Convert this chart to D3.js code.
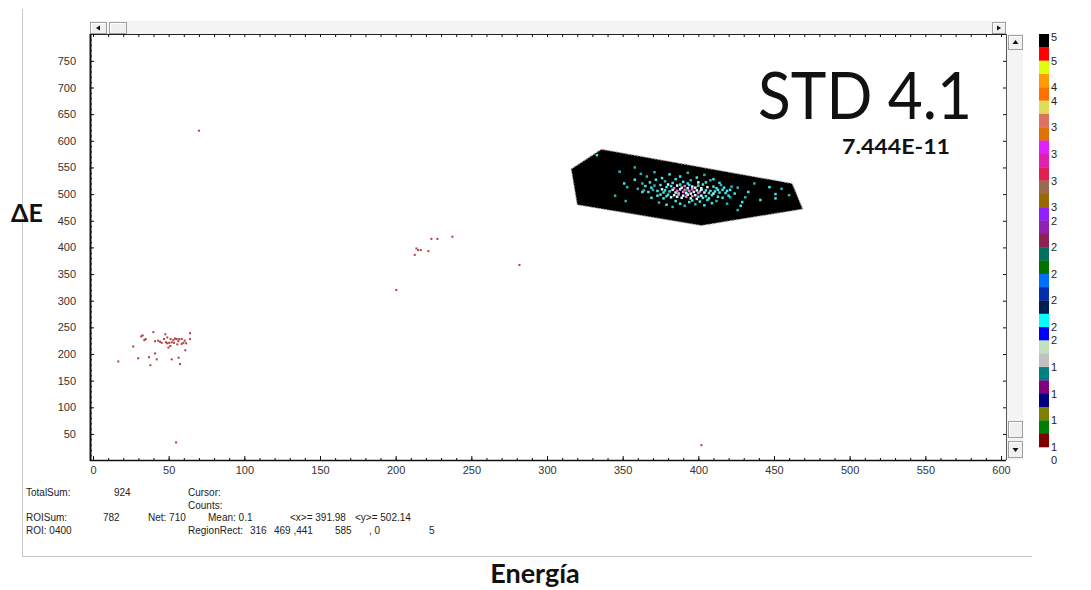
<!DOCTYPE html>
<html>
<head>
<meta charset="utf-8">
<script src="https://cdn.jsdelivr.net/npm/d3@7"></script>
<style>
  html, body { margin: 0; padding: 0; background: #fff; }
  svg { display: block; }
  .tk text { font-family: "Liberation Sans", Arial, sans-serif; font-size: 11px; fill: #333; }
  .info { font-family: "Liberation Sans", Arial, sans-serif; font-size: 10px; fill: #222; }
</style>
</head>
<body>
<svg id="chart" width="1091" height="590"></svg>
<script>
// ---- data -------------------------------------------------------------
const xTicks = [0, 50, 100, 150, 200, 250, 300, 350, 400, 450, 500, 550, 600];
const yTicks = [50, 100, 150, 200, 250, 300, 350, 400, 450, 500, 550, 600, 650, 700, 750];

// ROI polygon (Energía, ΔE)
const roiPolygon = [[316, 547], [336, 584], [462, 520], [469, 472], [402, 441], [320, 480]];

// counts inside the ROI: [Energía, ΔE, level]
const roiEvents = [
  // upper fringe
  [362, 538, 1], [371, 541, 1], [381, 537, 2], [388, 533, 2], [393, 540, 1], [399, 531, 2], [404, 536, 1],
  [376, 530, 2], [366, 533, 1], [410, 528, 2],
  [358, 527, 2], [368, 522, 2], [372, 527, 2], [378, 524, 1], [383, 521, 2], [385, 528, 2], [390, 523, 2],
  [393, 520, 2], [395, 526, 1], [400, 522, 3], [405, 522, 2], [408, 526, 1], [414, 521, 2], [363, 520, 1],
  // core
  [365, 515, 2], [371, 516, 1], [375, 517, 2], [379, 513, 2], [380, 518, 3], [382, 515, 2], [384, 511, 4],
  [386, 516, 3], [388, 518, 2], [389, 512, 3], [391, 515, 4], [393, 511, 3], [394, 517, 2], [396, 514, 3],
  [398, 512, 3], [400, 516, 2], [402, 511, 3], [403, 518, 2], [406, 513, 3], [410, 514, 2], [412, 511, 2],
  [415, 517, 1], [417, 512, 2], [422, 514, 1], [426, 512, 1], [369, 512, 2],
  [367, 504, 2], [370, 508, 1], [373, 506, 2], [376, 509, 3], [377, 503, 2], [378, 507, 2], [381, 505, 2],
  [383, 508, 3], [385, 503, 3], [386, 506, 4], [387, 501, 3], [388, 509, 3], [390, 504, 4], [391, 508, 4],
  [392, 502, 3], [394, 506, 4], [395, 501, 3], [396, 509, 4], [397, 504, 3], [399, 507, 3], [400, 502, 4],
  [401, 505, 4], [402, 508, 3], [404, 503, 3], [405, 507, 2], [407, 502, 2], [408, 506, 2], [410, 501, 3],
  [411, 505, 2], [413, 508, 2], [414, 503, 2], [418, 502, 2], [419, 506, 2], [421, 508, 2], [424, 501, 2],
  [364, 507, 1], [360, 510, 1],
  [369, 493, 2], [373, 497, 2], [375, 499, 2], [377, 492, 2], [379, 496, 2], [380, 499, 2], [382, 494, 3],
  [384, 498, 3], [386, 495, 3], [387, 499, 4], [389, 493, 3], [390, 497, 3], [392, 495, 4], [393, 499, 3],
  [395, 492, 3], [396, 496, 4], [398, 498, 3], [399, 491, 3], [400, 495, 2], [402, 497, 3], [403, 493, 2],
  [405, 496, 2], [407, 492, 2], [409, 498, 2], [413, 495, 2], [416, 493, 2], [420, 497, 2],
  // lower fringe
  [374, 484, 1], [379, 480, 2], [385, 487, 2], [388, 482, 2], [391, 478, 1], [394, 485, 2], [396, 488, 2],
  [398, 481, 1], [401, 486, 2], [404, 479, 2], [406, 489, 2], [409, 483, 2], [412, 487, 1], [419, 482, 1],
  [383, 476, 1],
  // scattered
  [333, 573, 2], [348, 542, 1], [358, 550, 1], [351, 520, 2], [353, 513, 1], [363, 504, 2], [352, 487, 1],
  [433, 504, 2], [441, 489, 2], [451, 500, 2], [451, 492, 2], [429, 485, 2], [431, 494, 1], [426, 470, 1],
  [421, 494, 1], [416, 508, 2], [455, 510, 1], [447, 513, 2], [460, 498, 1], [345, 497, 1], [437, 520, 1],
  [428, 478, 2],
  [392, 507, 5]
];

// counts outside the ROI: [Energía, ΔE]
const otherEvents = [
  [16.7, 186], [26.6, 214], [29.9, 192], [31.9, 233], [32.8, 235], [33.9, 226], [34.8, 228], [37.0, 194],
  [37.9, 179], [39.9, 241], [41.0, 224], [41.0, 201], [42.1, 190], [43.0, 225], [44.3, 223], [45.4, 221],
  [46.9, 228], [47.8, 237], [48.2, 222], [49.1, 231], [49.1, 220], [50.4, 221], [49.8, 212], [51.1, 215],
  [51.3, 228], [52.0, 222], [52.0, 190], [53.1, 226], [53.5, 221], [54.2, 229], [55.3, 228], [55.7, 218],
  [56.4, 224], [56.6, 193], [57.0, 228], [57.5, 181], [58.6, 228], [58.6, 219], [59.7, 221], [60.6, 225],
  [61.0, 207], [61.5, 220], [64.1, 239], [64.1, 228],
  [54.9, 34], [70, 619], [402, 29],
  [200.4, 320], [212.6, 386], [213.7, 398], [214.8, 395], [216.6, 395], [221.6, 393], [223.6, 416],
  [227.6, 416], [237.5, 420], [281.8, 367]
];

// colour scale of the count display, top to bottom
const paletteColors = [
  "#000000", "#ff0000", "#e0ff10", "#ff9a00", "#ff7000", "#e0dc58", "#e07060", "#e07000",
  "#e020ff", "#e020b0", "#e02050", "#9a6a50", "#9a6a00", "#9020ff", "#9020b0", "#902050",
  "#007060", "#007000", "#0070ff", "#0030b0", "#002050", "#00ffff", "#0000ff", "#c0e0c0",
  "#c0c0c0", "#008080", "#800080", "#000080", "#808000", "#008000", "#800000"
];
// scale labels: [text, step position]
const paletteLabels = [
  ["5", 0], ["5", 2], ["4", 4], ["4", 5], ["3", 7], ["3", 9], ["3", 11], ["3", 13],
  ["2", 14], ["2", 16], ["2", 18], ["2", 20], ["2", 22], ["2", 23],
  ["1", 25], ["1", 27], ["1", 29], ["1", 31], ["0", 32]
];

// level colours used for counts drawn over the ROI fill
const roiLevelColors = { 1: "#2fb4b4", 2: "#45e6e6", 3: "#d8fafa", 4: "#f070f0", 5: "#20c040" };

// status lines under the plot: [text, x, row]
const infoTexts = [
  ["TotalSum:", 26, 0], ["924", 114, 0], ["Cursor:", 188, 0],
  ["Counts:", 188, 1],
  ["ROISum:", 26, 2], ["782", 103, 2], ["Net: 710", 148, 2], ["Mean: 0.1", 208, 2],
  ["<x>= 391.98", 290, 2], ["<y>= 502.14", 355, 2],
  ["ROI: 0400", 26, 3], ["RegionRect:", 188, 3], ["316", 250, 3], ["469 ,441", 274, 3],
  ["585", 335, 3], [", 0", 369, 3], ["5", 429, 3]
];

// ---- drawing ----------------------------------------------------------
const svg = d3.select("#chart");
const frame = { left: 90, right: 1006, top: 34, bottom: 460 };

const x = d3.scaleLinear().domain([0, 600]).range([93, 1001]);
const y = d3.scaleLinear().domain([0, 800]).range([460.6, 34.2]);

// window borders
svg.append("line").attr("x1", 22.5).attr("x2", 22.5).attr("y1", 9).attr("y2", 556.5)
  .attr("stroke", "#c8c8c8");
svg.append("line").attr("x1", 22).attr("x2", 1032).attr("y1", 556.5).attr("y2", 556.5)
  .attr("stroke", "#c8c8c8");

// scroll bars
function button(gx, gy, w, h) {
  const g = svg.append("g");
  g.append("rect").attr("x", gx + 0.5).attr("y", gy + 0.5).attr("width", w - 1).attr("height", h - 1)
    .attr("fill", "#f0f0f0").attr("stroke", "#a0a0a0");
  g.append("line").attr("x1", gx + 1.5).attr("x2", gx + w - 1.5).attr("y1", gy + 1.5).attr("y2", gy + 1.5)
    .attr("stroke", "#fff");
  g.append("line").attr("x1", gx + 1.5).attr("x2", gx + 1.5).attr("y1", gy + 1.5).attr("y2", gy + h - 1.5)
    .attr("stroke", "#fff");
  return g;
}
svg.append("rect").attr("x", frame.left).attr("y", 21).attr("width", frame.right - frame.left).attr("height", 13)
  .attr("fill", "#f4f4f4");
svg.append("rect").attr("x", 1007).attr("y", frame.top).attr("width", 16).attr("height", frame.bottom - frame.top)
  .attr("fill", "#f4f4f4");
button(90, 22, 17, 12).append("path").attr("d", "M96,28 L100,25.5 L100,30.5 Z").attr("fill", "#111");
button(109, 22, 18, 12);
button(992, 22, 14, 12).append("path").attr("d", "M1001,28 L997,25.5 L997,30.5 Z").attr("fill", "#111");
button(1008, 35, 15, 15).append("path").attr("d", "M1015.5,40 L1012.5,44 L1018.5,44 Z").attr("fill", "#111");
button(1008, 421, 15, 17);
button(1008, 441, 15, 17).append("path").attr("d", "M1015.5,452 L1012.5,448 L1018.5,448 Z").attr("fill", "#111");

// plot area
svg.append("rect").attr("x", frame.left).attr("y", frame.top)
  .attr("width", frame.right - frame.left).attr("height", frame.bottom - frame.top).attr("fill", "#fff");

// ROI fill
svg.append("path")
  .attr("d", d3.line().x(d => x(d[0])).y(d => y(d[1]))(roiPolygon) + "Z")
  .attr("fill", "#000").attr("stroke", "#a8a8a8").attr("stroke-width", 1.2)
  .attr("stroke-dasharray", "1.5,1.5");

// counts
svg.append("g").selectAll("rect").data(otherEvents).join("rect")
  .attr("x", d => x(d[0]) - 1).attr("y", d => y(d[1]) - 1)
  .attr("width", 2).attr("height", 2).attr("fill", "#a81c1c").attr("opacity", 0.85);
svg.append("g").selectAll("rect").data(roiEvents).join("rect")
  .attr("x", d => x(d[0]) - 1.25).attr("y", d => y(d[1]) - 1.25)
  .attr("width", 2.5).attr("height", 2.5).attr("fill", d => roiLevelColors[d[2]]);

// frame lines
svg.append("line").attr("x1", frame.left).attr("x2", frame.right).attr("y1", frame.top + 0.5).attr("y2", frame.top + 0.5)
  .attr("stroke", "#222");
svg.append("line").attr("x1", frame.right + 0.5).attr("x2", frame.right + 0.5).attr("y1", frame.top).attr("y2", frame.bottom)
  .attr("stroke", "#555");

// axes
const yMinor = d3.range(10, 800, 10);
const xMinor = d3.range(0, 605, 10);

svg.append("g").attr("class", "tk").attr("transform", `translate(${frame.left},0)`)
  .call(d3.axisLeft(y).tickValues(yMinor).tickSizeInner(-2).tickSizeOuter(0).tickFormat(""))
  .call(g => g.select(".domain").remove());
svg.append("g").attr("class", "tk").attr("transform", `translate(${frame.left},0)`)
  .call(d3.axisLeft(y).tickValues(yTicks).tickSizeInner(-4).tickSizeOuter(0).tickPadding(14).tickFormat(d3.format("d")))
  .call(g => g.select(".domain").remove());

svg.append("g").attr("class", "tk").attr("transform", `translate(0,${frame.bottom})`)
  .call(d3.axisBottom(x).tickValues(xMinor).tickSizeInner(-2).tickSizeOuter(0).tickFormat(""))
  .call(g => g.select(".domain").remove());
svg.append("g").attr("class", "tk").attr("transform", `translate(0,${frame.bottom})`)
  .call(d3.axisBottom(x).tickValues(xTicks).tickSizeInner(-4).tickSizeOuter(0).tickPadding(6).tickFormat(d3.format("d")))
  .call(g => g.select(".domain").remove());

svg.append("g").attr("class", "tk").attr("transform", `translate(0,${frame.top})`)
  .call(d3.axisTop(x).tickValues(xMinor).tickSizeInner(-3).tickSizeOuter(0).tickFormat(""))
  .call(g => g.select(".domain").remove());
svg.append("g").attr("class", "tk").attr("transform", `translate(${frame.right},0)`)
  .call(d3.axisRight(y).tickValues(yTicks).tickSizeInner(-3).tickSizeOuter(0).tickFormat(""))
  .call(g => g.select(".domain").remove());

svg.selectAll(".tk .tick line").attr("stroke", "#111");

svg.append("line").attr("x1", frame.left + 0.5).attr("x2", frame.left + 0.5).attr("y1", frame.top).attr("y2", frame.bottom + 1)
  .attr("stroke", "#111").attr("stroke-width", 2);
svg.append("line").attr("x1", frame.left).attr("x2", frame.right).attr("y1", frame.bottom + 0.5).attr("y2", frame.bottom + 0.5)
  .attr("stroke", "#111").attr("stroke-width", 1.5);

// colour scale
const step = d3.scaleLinear().domain([0, paletteColors.length]).range([34, 447]);
svg.append("g").selectAll("rect").data(paletteColors).join("rect")
  .attr("x", 1039).attr("y", (d, i) => step(i)).attr("width", 10)
  .attr("height", (d, i) => step(i + 1) - step(i) + 0.3).attr("fill", d => d);
svg.append("g").selectAll("text").data(paletteLabels).join("text")
  .attr("class", "info").attr("x", 1051)
  .attr("y", d => Math.max(step(d[1]), 37) + 4)
  .style("font-size", "11px").style("fill", "#222")
  .text(d => d[0]);

// status lines
const rowY = [496, 509, 521, 534];
svg.append("g").selectAll("text").data(infoTexts).join("text")
  .attr("class", "info").attr("x", d => d[1]).attr("y", d => rowY[d[2]])
  .text(d => d[0]);

// titles
svg.append("text").attr("x", 758).attr("y", 119)
  .attr("textLength", 214).attr("lengthAdjust", "spacingAndGlyphs")
  .style("font-family", "Lato, 'Open Sans', sans-serif").style("font-size", "66px").style("fill", "#111")
  .text("STD 4.1");
svg.append("text").attr("x", 842).attr("y", 154)
  .attr("textLength", 108).attr("lengthAdjust", "spacingAndGlyphs")
  .style("font-family", "Lato, 'Open Sans', sans-serif").style("font-size", "20px").style("font-weight", "bold")
  .style("fill", "#111").text("7.444E-11");
svg.append("text").attr("x", 11).attr("y", 222)
  .style("font-family", "Lato, 'Open Sans', sans-serif").style("font-size", "25px").style("font-weight", "bold")
  .style("fill", "#111").text("ΔE");
svg.append("text").attr("x", 535).attr("y", 583).attr("text-anchor", "middle")
  .style("font-family", "Lato, 'Open Sans', sans-serif").style("font-size", "27px").style("font-weight", "bold")
  .style("fill", "#111").text("Energía");
</script>
</body>
</html>
